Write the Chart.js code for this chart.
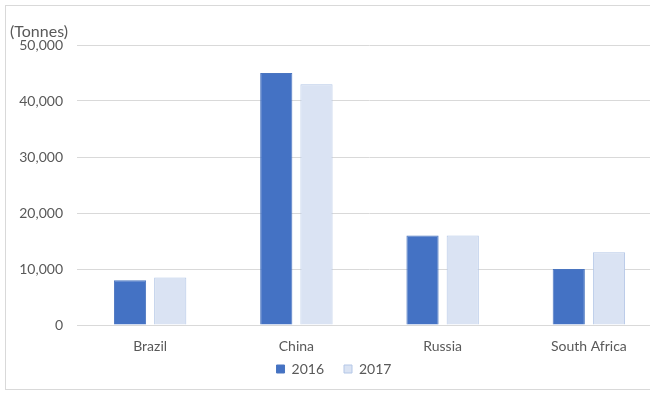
<!DOCTYPE html>
<html>
<head>
<meta charset="utf-8">
<script src="https://cdn.jsdelivr.net/npm/chart.js@4/dist/chart.umd.min.js"></script>
<style>
  body { margin: 0; background: #fff; overflow: hidden; }
  #box { position: absolute; left: 5px; top: 5px; width: 660px; height: 383px; border: 1px solid #d9d9d9; }
</style>
</head>
<body>
<div id="box"><canvas id="chart"></canvas></div>
<script>
// data
var countries = ["Brazil", "China", "Russia", "South Africa"];
var tonnes2016 = [8000, 45000, 16000, 10000];
var tonnes2017 = [8500, 43000, 16000, 13000];
var yTicks = [0, 10000, 20000, 30000, 40000, 50000];

var textColor = "#595959";
var fontFamily = "Lato, 'Open Sans', sans-serif";

// unit label above the y axis, and legend placement
var unitLabel = {
  id: "unitLabel",
  beforeInit: function (chart) {
    var fit = chart.legend.fit;
    chart.legend.fit = function () {
      fit.call(this);
      this.height = 29;
    };
  },
  afterLayout: function (chart) {
    var lg = chart.legend;
    lg.top = 336;
    lg.bottom = 380;
  },
  afterDraw: function (chart) {
    var ctx = chart.ctx;
    ctx.save();
    ctx.fillStyle = textColor;
    ctx.font = "16px " + fontFamily;
    ctx.textAlign = "left";
    ctx.textBaseline = "middle";
    ctx.fillText("(Tonnes)", 4, 26);
    ctx.restore();
  }
};

var ctx = document.getElementById("chart").getContext("2d");
var myChart = new Chart(ctx, {
  type: "bar",
  data: {
    labels: countries,
    datasets: [{
      label: "2016",
      data: tonnes2016,
      backgroundColor: "#4472c4",
      borderColor: "#4a75c0",
      borderWidth: 1
    },
    {
      label: "2017",
      data: tonnes2017,
      backgroundColor: "#dae3f3",
      borderColor: "#b4c7e7",
      borderWidth: 1
    }]
  },
  options: {
    responsive: true,
    maintainAspectRatio: false,
    animation: false,
    layout: { padding: { top: 39, right: 4, left: 0, bottom: 4 } },
    datasets: { bar: { barPercentage: 0.8, categoryPercentage: 0.55 } },
    plugins: {
      legend: {
        position: "bottom",
        labels: { boxWidth: 8, boxHeight: 8, color: textColor, font: { family: fontFamily, size: 14 }, padding: 20 }
      },
      tooltip: { enabled: false }
    },
    scales: {
      x: {
        afterFit: function (scale) { scale.height = 31; },
        grid: { display: false },
        border: { color: "#d9d9d9" },
        ticks: { color: textColor, font: { family: fontFamily, size: 14 }, padding: 5 }
      },
      y: {
        min: 0,
        max: 50000,
        afterFit: function (scale) { scale.width = 71; },
        afterBuildTicks: function (scale) {
          scale.ticks = yTicks.map(function (v) { return { value: v }; });
        },
        grid: { color: "#d9d9d9", drawTicks: false },
        border: { display: false },
        ticks: {
          color: textColor,
          font: { family: fontFamily, size: 14 },
          padding: 14,
          callback: function (v) { return v.toLocaleString("en-US"); }
        }
      }
    }
  },
  plugins: [unitLabel]
});
</script>
</body>
</html>
